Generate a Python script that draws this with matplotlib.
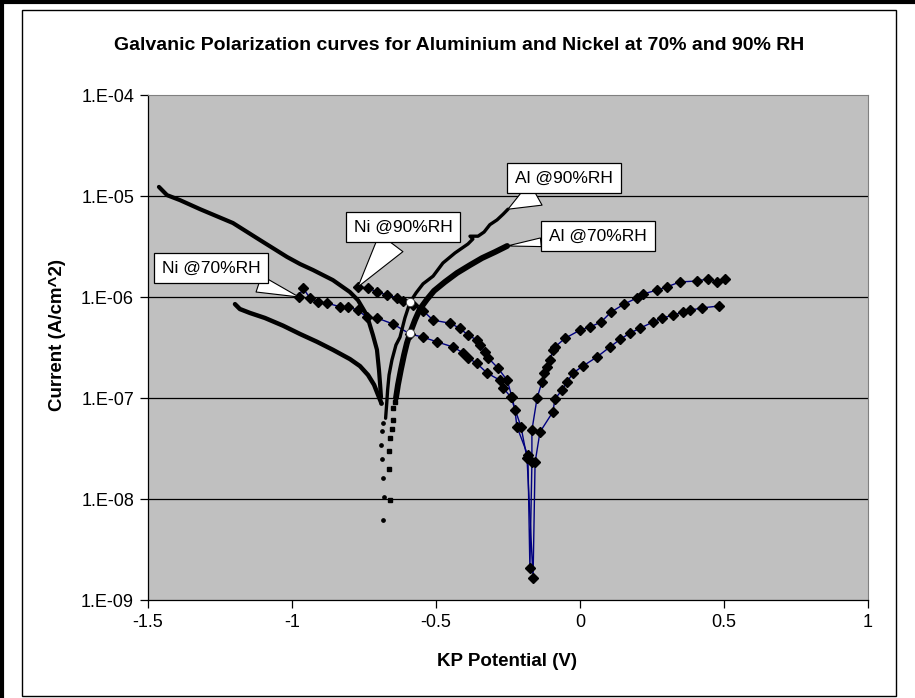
import numpy as np
import matplotlib
matplotlib.use("Agg")
import matplotlib.pyplot as plt
from matplotlib.ticker import FixedLocator, FuncFormatter
from matplotlib.patches import Rectangle
from matplotlib.lines import Line2D

plt.rcParams['font.family'] = ['Liberation Sans', 'DejaVu Sans']
plt.rcParams['axes.unicode_minus'] = False

# Al @90%RH - cathodic branch (dense small dots)
al90_cath_v = [-1.462, -1.448, -1.434, -1.389, -1.319, -1.205, -1.111, -1.017, -0.972,
               -0.927, -0.858, -0.799, -0.771, -0.740, -0.719, -0.705, -0.698, -0.694, -0.691]
al90_cath_i = [1.23e-5, 1.12e-5, 1.02e-5, 9.1e-6, 7.4e-6, 5.4e-6, 3.66e-6, 2.49e-6, 2.12e-6,
               1.85e-6, 1.47e-6, 1.12e-6, 9.3e-7, 6.6e-7, 4.2e-7, 3.0e-7, 1.9e-7, 1.35e-7, 1.02e-7]
# Al @90%RH - sparse points near the corrosion potential
al90_tail_v = [-0.691, -0.685, -0.686, -0.691, -0.686, -0.683, -0.680, -0.683]
al90_tail_i = [8.9e-8, 5.6e-8, 4.7e-8, 3.4e-8, 2.5e-8, 1.6e-8, 1.05e-8, 6.2e-9]
# Al @90%RH - anodic branch
al90_an_v = [-0.675, -0.671, -0.668, -0.663, -0.653, -0.639, -0.625, -0.608, -0.590, -0.569,
             -0.545, -0.510, -0.476, -0.434, -0.389, -0.372, -0.382, -0.354, -0.333, -0.313,
             -0.288, -0.267, -0.250]
al90_an_i = [6.3e-8, 8.9e-8, 1.2e-7, 1.69e-7, 2.38e-7, 3.35e-7, 4.0e-7, 6.2e-7, 8.9e-7, 1.1e-6,
             1.35e-6, 1.61e-6, 2.17e-6, 2.73e-6, 3.35e-6, 3.75e-6, 4.0e-6, 4.0e-6, 4.4e-6, 5.2e-6,
             5.8e-6, 6.6e-6, 7.4e-6]

# Al @70%RH - cathodic branch
al70_cath_v = [-1.198, -1.181, -1.146, -1.094, -1.031, -0.972, -0.913, -0.858, -0.799,
               -0.764, -0.736, -0.715, -0.701, -0.691]
al70_cath_i = [8.5e-7, 7.6e-7, 6.95e-7, 6.2e-7, 5.2e-7, 4.3e-7, 3.6e-7, 3.0e-7, 2.43e-7,
               2.07e-7, 1.69e-7, 1.35e-7, 1.07e-7, 9.1e-8]
# Al @70%RH - squares near the corrosion potential
al70_tail_v = [-0.660, -0.663, -0.662, -0.660, -0.654, -0.650, -0.648, -0.642]
al70_tail_i = [9.8e-9, 2.0e-8, 3.0e-8, 4.0e-8, 4.9e-8, 6.05e-8, 7.9e-8, 9.2e-8]
# Al @70%RH - anodic branch
al70_an_v = [-0.639, -0.632, -0.622, -0.611, -0.601, -0.590, -0.573, -0.556, -0.531, -0.507,
             -0.469, -0.427, -0.382, -0.340, -0.295, -0.253]
al70_an_i = [1.0e-7, 1.35e-7, 1.9e-7, 2.67e-7, 3.5e-7, 4.4e-7, 5.9e-7, 7.6e-7, 9.5e-7, 1.15e-6,
             1.41e-6, 1.73e-6, 2.07e-6, 2.43e-6, 2.79e-6, 3.2e-6]

# Ni @90%RH
ni90_v = [-0.771, -0.736, -0.705, -0.670, -0.635, -0.615, -0.580, -0.545, -0.510, -0.451,
          -0.417, -0.389, -0.358, -0.347, -0.330, -0.319, -0.285, -0.253, -0.236, -0.226,
          -0.219, -0.181, -0.174, -0.167, -0.167, -0.149, -0.132, -0.125, -0.115, -0.104,
          -0.094, -0.087, -0.052, 0.000, 0.035, 0.073, 0.108, 0.153, 0.198, 0.219,
          0.267, 0.302, 0.347, 0.406, 0.444, 0.476, 0.503]
ni90_i = [1.26e-6, 1.23e-6, 1.12e-6, 1.05e-6, 9.8e-7, 9.1e-7, 8.3e-7, 7.3e-7, 5.9e-7, 5.5e-7,
          4.9e-7, 4.2e-7, 3.75e-7, 3.35e-7, 2.85e-7, 2.5e-7, 1.98e-7, 1.5e-7, 1.02e-7, 7.6e-8,
          5.2e-8, 2.7e-8, 2.07e-9, 2.3e-8, 4.8e-8, 1.0e-7, 1.44e-7, 1.77e-7, 2.05e-7, 2.38e-7,
          3.0e-7, 3.2e-7, 3.9e-7, 4.7e-7, 5.05e-7, 5.65e-7, 7.1e-7, 8.5e-7, 9.8e-7, 1.07e-6,
          1.17e-6, 1.26e-6, 1.41e-6, 1.44e-6, 1.51e-6, 1.41e-6, 1.51e-6]

# Ni @70%RH
ni70_v = [-0.976, -0.962, -0.938, -0.910, -0.878, -0.833, -0.806, -0.771, -0.740, -0.705,
          -0.649, -0.590, -0.545, -0.497, -0.441, -0.406, -0.389, -0.358, -0.323, -0.278,
          -0.267, -0.240, -0.205, -0.184, -0.163, -0.156, -0.139, -0.094, -0.087, -0.062,
          -0.045, -0.024, 0.010, 0.059, 0.104, 0.139, 0.174, 0.208, 0.253, 0.285,
          0.323, 0.358, 0.382, 0.424, 0.483]
ni70_i = [1.0e-6, 1.23e-6, 9.8e-7, 8.9e-7, 8.7e-7, 8.0e-7, 8.0e-7, 7.4e-7, 6.3e-7, 6.2e-7,
          5.4e-7, 4.3e-7, 4.0e-7, 3.6e-7, 3.2e-7, 2.8e-7, 2.5e-7, 2.2e-7, 1.77e-7, 1.5e-7,
          1.26e-7, 1.02e-7, 5.2e-8, 2.55e-8, 1.65e-9, 2.3e-8, 4.6e-8, 7.3e-8, 9.8e-8, 1.2e-7,
          1.44e-7, 1.77e-7, 2.07e-7, 2.55e-7, 3.2e-7, 3.8e-7, 4.4e-7, 4.9e-7, 5.65e-7, 6.2e-7,
          6.6e-7, 7.1e-7, 7.4e-7, 7.8e-7, 8.15e-7]

# galvanic couple points (white circles)
couple_v = [-0.590, -0.590]
couple_i = [8.9e-7, 4.4e-7]

x_ticks = [-1.5, -1, -0.5, 0, 0.5, 1]
y_ticks = [1e-9, 1e-8, 1e-7, 1e-6, 1e-5, 1e-4]

W, H = 915, 698
fig = plt.figure(figsize=(W / 100, H / 100), dpi=100)
ax = fig.add_axes([148 / W, 1 - 600 / H, 720 / W, 505 / H])
ax.set_facecolor('#c0c0c0')
ax.set_yscale('log')
ax.set_xlim(-1.5, 1)
ax.set_ylim(1e-9, 1e-4)

for y in y_ticks[1:-1]:
    ax.axhline(y, color='black', lw=0.9, zorder=1)

# Ni curves: navy line with black diamonds
for v, i in [(ni90_v, ni90_i), (ni70_v, ni70_i)]:
    ax.plot(v, i, color='#000080', lw=1.0, zorder=3)
    ax.plot(v, i, ls='none', marker='D', ms=5.5, mfc='black', mec='black', zorder=4)

# Al curves: dense black dots
ax.plot(al90_cath_v, al90_cath_i, color='black', lw=3.0, solid_capstyle='round', zorder=5)
ax.plot(al90_tail_v, al90_tail_i, ls='none', marker='o', ms=2.4, color='black', zorder=5)
ax.plot(al90_an_v, al90_an_i, color='black', lw=2.4, solid_capstyle='round', zorder=5)
ax.plot(al70_cath_v, al70_cath_i, color='black', lw=3.2, solid_capstyle='round', zorder=5)
ax.plot(al70_an_v, al70_an_i, color='black', lw=4.2, solid_capstyle='round', zorder=5)
ax.plot(al70_tail_v, al70_tail_i, ls='none', marker='s', ms=3.5, color='black', zorder=5)

ax.plot(couple_v, couple_i, ls='none', marker='o', ms=6, mfc='white', mec='#404040',
        mew=0.6, zorder=6)

# callouts
def callout(text, xy, px, py, tw):
    ax.annotate(text, xy=xy, xycoords='data',
                xytext=(px / W, 1 - py / H), textcoords='figure fraction',
                ha='center', va='center', fontsize=12.5, zorder=8,
                bbox=dict(boxstyle='square,pad=0.45', fc='white', ec='black', lw=0.9),
                arrowprops=dict(arrowstyle='wedge,tail_width=%g,shrink_factor=0.5' % tw,
                                fc='white', ec='black', lw=0.8, shrinkA=0, shrinkB=0))

callout('Ni @70%RH', (ni70_v[0], ni70_i[0]), 211, 268, 1.0)
callout('Ni @90%RH', (ni90_v[0], ni90_i[0]), 403, 227, 1.7)
callout('Al @90%RH', (al90_an_v[-1], al90_an_i[-1]), 564, 178, 1.5)
callout('Al @70%RH', (al70_an_v[-1], al70_an_i[-1]), 598, 236, 0.5)

ax.xaxis.set_major_locator(FixedLocator(x_ticks))
ax.yaxis.set_major_locator(FixedLocator(y_ticks))
ax.yaxis.set_minor_locator(FixedLocator([]))
ax.xaxis.set_major_formatter(FuncFormatter(lambda v, p: '%g' % v))
ax.yaxis.set_major_formatter(FuncFormatter(
    lambda v, p: '1.E-%02d' % int(round(-np.log10(v)))))
ax.tick_params(axis='both', direction='out', length=6, width=0.9, labelsize=13,
               color='black', pad=4)

for s in ['top', 'right']:
    ax.spines[s].set_color('#808080')
for s in ['left', 'bottom']:
    ax.spines[s].set_color('black')
    ax.spines[s].set_linewidth(0.9)

fig.text(459 / W, 1 - 45 / H,
         'Galvanic Polarization curves for Aluminium and Nickel at 70% and 90% RH',
         ha='center', va='center', fontsize=14, fontweight='bold')
fig.text(507 / W, 1 - 662 / H, 'KP Potential (V)', ha='center', va='center',
         fontsize=13.5, fontweight='bold')
fig.text(57 / W, 1 - 335 / H, 'Current (A/cm^2)', ha='center', va='center',
         rotation=90, fontsize=13.5, fontweight='bold')

# chart frame
fig.add_artist(Rectangle((22 / W, 1 - 696 / H), 874 / W, 686 / H, transform=fig.transFigure,
                         fill=False, ec='black', lw=1.0))
fig.add_artist(Line2D([0, 1], [1 - 2 / H, 1 - 2 / H], transform=fig.transFigure,
                      color='black', lw=3.0))
fig.add_artist(Line2D([2 / W, 2 / W], [0, 1], transform=fig.transFigure,
                      color='black', lw=3.0))

fig.savefig('out.png', dpi=100)
